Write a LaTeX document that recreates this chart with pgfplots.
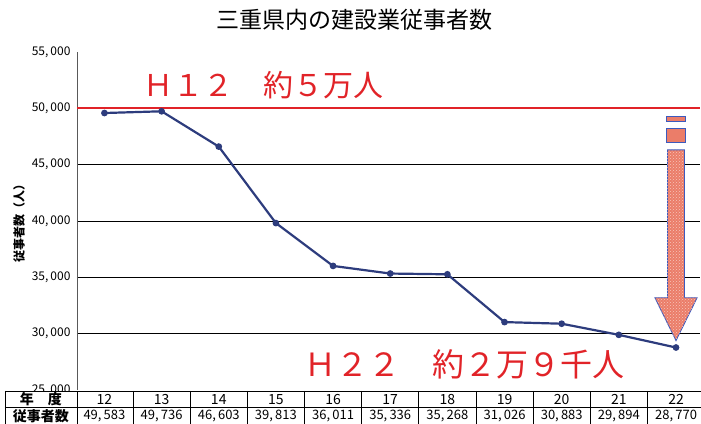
\documentclass[border=0pt]{standalone}
\usepackage{fontspec}
\setmainfont{Noto Sans CJK JP}
\usepackage{pgfplots}
\pgfplotsset{compat=1.18}
\usetikzlibrary{calc,patterns}
\definecolor{navy}{RGB}{45,60,125}
\definecolor{redline}{RGB}{225,35,40}
\definecolor{arrowfill}{RGB}{235,125,105}
\definecolor{arrowedge}{RGB}{60,90,190}
\begin{document}
\begin{tikzpicture}
\begin{axis}[
  scale only axis, width=623pt, height=338pt,
  xmin=11.52, xmax=22.42, ymin=25000, ymax=55000,
  axis line style={draw=none},
  ytick={25000,30000,35000,40000,45000,50000,55000},
  scaled y ticks=false,
  yticklabel style={font=\fontsize{12}{12}\selectfont, xshift=-3pt,
    /pgf/number format/fixed, /pgf/number format/1000 sep={,\hspace{2pt}},
    /pgf/number format/assume math mode=true},
  xtick=\empty,
  major tick length=0pt,
  extra y ticks={30000,35000,40000,45000},
  extra y tick labels={},
  extra y tick style={grid=major, major grid style={black, line width=0.9pt}},
  ylabel={従事者数（人）},
  ylabel style={font=\fontsize{12}{12}\selectfont\bfseries, yshift=0pt},
  clip=false,
]
\coordinate (BL) at (rel axis cs:0,0);
\coordinate (TR) at (rel axis cs:1,1);
\draw[gray!70!black, line width=0.9pt] (rel axis cs:0,0) -- (rel axis cs:0,1);
\draw[redline, line width=1.8pt] (axis cs:11.52,50000) -- (axis cs:22.42,50000);
\addplot[navy, line width=2.2pt, mark=*, mark size=2.2pt] coordinates {
  (12,49583) (13,49736) (14,46603) (15,39813) (16,36011) (17,35336)
  (18,35268) (19,31026) (20,30883) (21,29894) (22,28770)
};
% arrow
\filldraw[fill=arrowfill, draw=arrowedge, line width=0.8pt]
  (axis cs:21.85,46312) -- (axis cs:21.85,33192) -- (axis cs:21.63,33192) -- (axis cs:22,29380)
  -- (axis cs:22.37,33192) -- (axis cs:22.15,33192) -- (axis cs:22.15,46312) -- cycle;
\path[pattern=crosshatch dots, pattern color=white!55!arrowfill]
  (axis cs:21.85,46312) -- (axis cs:21.85,33192) -- (axis cs:21.63,33192) -- (axis cs:22,29380)
  -- (axis cs:22.37,33192) -- (axis cs:22.15,33192) -- (axis cs:22.15,46312) -- cycle;
\filldraw[fill=arrowfill, draw=arrowedge, line width=0.8pt]
  (axis cs:21.84,49326) rectangle (axis cs:22.16,48806);
\filldraw[fill=arrowfill, draw=arrowedge, line width=0.8pt]
  (axis cs:21.84,48174) rectangle (axis cs:22.16,46933);
% annotations
\node[redline, anchor=west, font=\fontsize{30}{30}\selectfont, inner sep=0pt]
  at (axis cs:12.68,52100) {Ｈ１２　約５万人};
\node[redline, anchor=west, font=\fontsize{32}{32}\selectfont, inner sep=0pt]
  at (axis cs:15.5,27250) {Ｈ２２　約２万９千人};
\end{axis}
% title
\node[font=\fontsize{23}{23}\selectfont] at ($(BL)!0.446!(BL-|TR) + (0,370pt)$) {三重県内の建設業従事者数};
% table
\fill[white] ($(BL)+(-72pt,-1pt)$) rectangle ($(BL-|TR)+(1pt,-34pt)$);
\draw[black, line width=0.9pt] ($(BL)+(-72pt,-1pt)$) -- ($(BL-|TR)+(1pt,-1pt)$);
\draw[black, line width=0.9pt] ($(BL)+(-72pt,-17.5pt)$) -- ($(BL-|TR)+(1pt,-17.5pt)$);
\draw[black, line width=0.9pt] ($(BL)+(-72pt,-34pt)$) -- ($(BL-|TR)+(1pt,-34pt)$);
\draw[black, line width=0.9pt] ($(BL)+(-72pt,-1pt)$) -- ($(BL)+(-72pt,-34pt)$);
\draw[black, line width=0.9pt] ($(BL)+(0pt,-1pt)$) -- ($(BL)+(0pt,-34pt)$);
\foreach \k in {1,...,10} {
  \draw[black, line width=0.9pt] ($(BL)+(\k*57.16pt-1.14pt,-1pt)$) -- ($(BL)+(\k*57.16pt-1.14pt,-34pt)$);
}
\node[font=\fontsize{14}{14}\selectfont\bfseries] at ($(BL)+(-36pt,-9.2pt)$) {年　度};
\node[font=\fontsize{14}{14}\selectfont\bfseries] at ($(BL)+(-36pt,-25.8pt)$) {従事者数};
\foreach \yr/\val [count=\i from 0] in {12/{49,\,583},13/{49,\,736},14/{46,\,603},15/{39,\,813},16/{36,\,011},17/{35,\,336},18/{35,\,268},19/{31,\,026},20/{30,\,883},21/{29,\,894},22/{28,\,770}} {
  \node[font=\fontsize{14}{14}\selectfont] at ($(BL)+(\i*57.16pt+27.44pt,-9.2pt)$) {\yr};
  \node[font=\fontsize{13}{13}\selectfont] at ($(BL)+(\i*57.16pt+27.44pt,-25.8pt)$) {\val};
}
\pgfresetboundingbox
\path[use as bounding box] ($(BL)+(-77pt,-34pt)$) rectangle ($(TR)+(1pt,52pt)$);
\end{tikzpicture}
\end{document}
